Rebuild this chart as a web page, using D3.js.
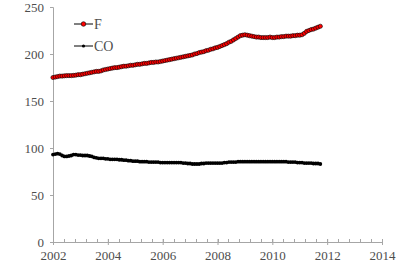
<!DOCTYPE html>
<html><head><meta charset="utf-8">
<script src="https://cdn.jsdelivr.net/npm/d3@7"></script>
<style>body{margin:0;background:#fff}svg{display:block}</style>
</head><body>
<svg id="c" width="400" height="268"></svg>
<script>
const startYear = 2002;
const xTicks = [2002, 2004, 2006, 2008, 2010, 2012, 2014];
const yTicks = [0, 50, 100, 150, 200, 250];
const seriesNames = ["F", "CO"];
const F = [
 175,175.5,176,176.5,176.5,176.8,177,177,177,177.2,177.5,178,
 178,178.5,179,179.5,180,180.5,181,181.5,181.5,182,183,183.5,
 184,184.5,185,185.5,185.5,186,186.5,187,187,187.5,188,188,
 188.5,189,189,189.5,190,190,190.5,191,191,191.5,191.5,192,
 192.5,193,193.5,194,194.5,195,195.5,196,196.5,197,197.5,198,
 198.5,199,200,200.5,201.5,202,202.5,203.5,204,205,205.5,206.5,
 207,208,209,210,211,212.5,213.5,215,216.5,218,219.5,220,
 220.5,220,219.5,219,218.5,218,218,217.5,217.5,217.5,217.5,218,
 217.5,217.5,218,218,218.5,218.5,219,219,219,219.5,219.5,220,
 220,220.5,222,224,225,226,226.5,227.5,228.5,229.5
];
const CO = [
 93,93.5,94,93.5,92,91,91,91.5,92,93,93,92.5,
 92.5,92,92,92,91.5,91,90,89.5,89,89,89,88.5,
 88.5,88,88,88,88,87.5,87.5,87,87,86.5,86.5,86,
 86,86,85.5,85.5,85.5,85.5,85,85,85,85,85,84.5,
 84.5,84.5,84.5,84.5,84.5,84.5,84.5,84.5,84.5,84,84,83.5,
 83.5,83,83,83,83,83.5,83.5,84,84,84,84,84,
 84,84,84,84.5,84.5,85,85,85,85,85.5,85.5,85.5,
 85.5,85.5,85.5,85.5,85.5,85.5,85.5,85.5,85.5,85.5,85.5,85.5,
 85.5,85.5,85.5,85.5,85.5,85.5,85.5,85,85,85,85,84.5,
 84.5,84.5,84,84,84,84,83.5,83.5,83.5,83
];
const months = F.map((_, i) => startYear + i / 12);

const svg = d3.select("#c");
const x = d3.scaleLinear().domain([2002, 2014]).range([53, 382]);
const y = d3.scaleLinear().domain([0, 250]).range([242, 7]);
const axisColor = "#a6a6a6";
const textColor = "#4d4d4d";
const font = "'Liberation Serif', 'Times New Roman', serif";

// Y axis
const ya = svg.append("g").attr("transform", "translate(53,0)")
  .call(d3.axisLeft(y).tickValues(yTicks).tickSize(3).tickPadding(6));
ya.select(".domain").attr("stroke", axisColor);
ya.selectAll(".tick line").attr("stroke", axisColor);
ya.selectAll("text").attr("fill", textColor).style("font-family", font).style("font-size", "13px");

// X axis minor ticks (every 0.4 year, inside)
const minor = d3.range(0, 31).map(k => 2002 + k * 0.4).filter(v => v <= 2014.001);
svg.append("g").selectAll("line").data(minor).join("line")
  .attr("x1", d => Math.round(x(d)) + 0.5).attr("x2", d => Math.round(x(d)) + 0.5)
  .attr("y1", 242).attr("y2", 239).attr("stroke", axisColor);

// X axis
const xa = svg.append("g").attr("transform", "translate(0,242)")
  .call(d3.axisBottom(x).tickValues(xTicks).tickFormat(d3.format("d")).tickSize(3).tickPadding(6));
xa.select(".domain").attr("stroke", axisColor);
xa.selectAll(".tick line").attr("stroke", axisColor).attr("y1", -3);
xa.selectAll("text").attr("fill", textColor).style("font-family", font).style("font-size", "13px");

const line = d3.line().x((d, i) => x(months[i])).y(d => y(d));

// CO series
svg.append("path").datum(CO).attr("d", line).attr("fill", "none").attr("stroke", "#000").attr("stroke-width", 1);
svg.append("g").selectAll("circle").data(CO).join("circle")
  .attr("cx", (d, i) => x(months[i])).attr("cy", d => y(d)).attr("r", 1.9).attr("fill", "#000");

// F series
svg.append("path").datum(F).attr("d", line).attr("fill", "none").attr("stroke", "#000").attr("stroke-width", 1);
svg.append("g").selectAll("circle").data(F).join("circle")
  .attr("cx", (d, i) => x(months[i])).attr("cy", d => y(d)).attr("r", 2.1)
  .attr("fill", "#ff0000").attr("stroke", "#000").attr("stroke-width", 0.6);

// Legend
const leg = svg.append("g");
seriesNames.forEach((name, k) => {
  const ly = 24 + k * 22;
  leg.append("line").attr("x1", 74).attr("x2", 93).attr("y1", ly).attr("y2", ly).attr("stroke", "#000").attr("stroke-width", 1);
  if (name === "F") {
    leg.append("circle").attr("cx", 83.5).attr("cy", ly).attr("r", 2.3).attr("fill", "#ff0000").attr("stroke", "#000").attr("stroke-width", 0.6);
  } else {
    leg.append("circle").attr("cx", 83.5).attr("cy", ly).attr("r", 1.6).attr("fill", "#000");
  }
  leg.append("text").attr("x", 94).attr("y", ly + 5).text(name)
    .attr("fill", textColor).style("font-family", font).style("font-size", "14px");
});
</script>
</body></html>
